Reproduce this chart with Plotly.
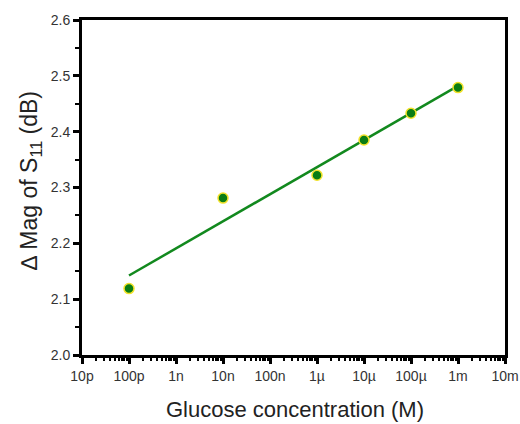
import numpy as np
import plotly.graph_objects as go

# Data
conc = [1e-10, 1e-8, 1e-6, 1e-5, 1e-4, 1e-3]
dmag = [2.119, 2.281, 2.322, 2.385, 2.433, 2.479]
xtick_vals = [1e-11, 1e-10, 1e-9, 1e-8, 1e-7, 1e-6, 1e-5, 1e-4, 1e-3, 1e-2]
xtick_text = ["10p", "100p", "1n", "10n", "100n", "1µ", "10µ", "100µ", "1m", "10m"]
x_title = "Glucose concentration (M)"
y_title = "∆ Mag of S<sub>11</sub> (dB)"

# Linear fit in log space
lx = np.log10(conc)
slope, icpt = np.polyfit(lx, dmag, 1)
fit_x = [conc[0], conc[-1]]
fit_y = [slope * np.log10(v) + icpt for v in fit_x]

minor_vals = [m * 10.0**e for e in range(-11, -2) for m in range(2, 10)]

fig = go.Figure()
fig.add_trace(go.Scatter(x=fit_x, y=fit_y, mode="lines",
                         line=dict(color="#12891e", width=2.5), showlegend=False))
fig.add_trace(go.Scatter(x=conc, y=dmag, mode="markers",
                         marker=dict(color="#0a7d14", size=10,
                                     line=dict(color="#f2e22a", width=1.5)),
                         showlegend=False))

fig.update_layout(
    width=520, height=424,
    margin=dict(l=82, r=15, t=20, b=69, autoexpand=False),
    paper_bgcolor="white", plot_bgcolor="white",
    font=dict(family="Liberation Sans, Arial, sans-serif", color="#222"),
    xaxis=dict(
        type="log", range=[-11, -2], automargin=False,
        tickvals=xtick_vals, ticktext=xtick_text,
        ticks="outside", ticklen=6, tickwidth=2.5, tickcolor="black",
        showline=True, linecolor="black", linewidth=3, mirror=True,
        showgrid=False, zeroline=False,
        tickfont=dict(size=14, color="#333"),
        minor=dict(tickvals=minor_vals, ticks="outside", ticklen=3,
                   tickwidth=2, tickcolor="black", showgrid=False),
    ),
    yaxis=dict(
        range=[2.0, 2.6], dtick=0.1, tickformat=".1f", automargin=False,
        ticks="outside", ticklen=6, tickwidth=2.5, tickcolor="black",
        showline=True, linecolor="black", linewidth=3, mirror=True,
        showgrid=False, zeroline=False,
        tickfont=dict(size=14, color="#333"),
        minor=dict(dtick=0.05, ticks="outside", ticklen=4, tickwidth=2,
                   tickcolor="black", showgrid=False),
    ),
    annotations=[
        dict(text=x_title, xref="paper", yref="paper", x=0.5035, y=-0.164,
             xanchor="center", yanchor="middle", showarrow=False,
             font=dict(size=22, color="#222")),
        dict(text=y_title, xref="paper", yref="paper", x=-0.123, y=0.522,
             xanchor="center", yanchor="middle", showarrow=False, textangle=-90,
             font=dict(size=23, color="#222")),
    ],
)

fig.write_html("out.html")
